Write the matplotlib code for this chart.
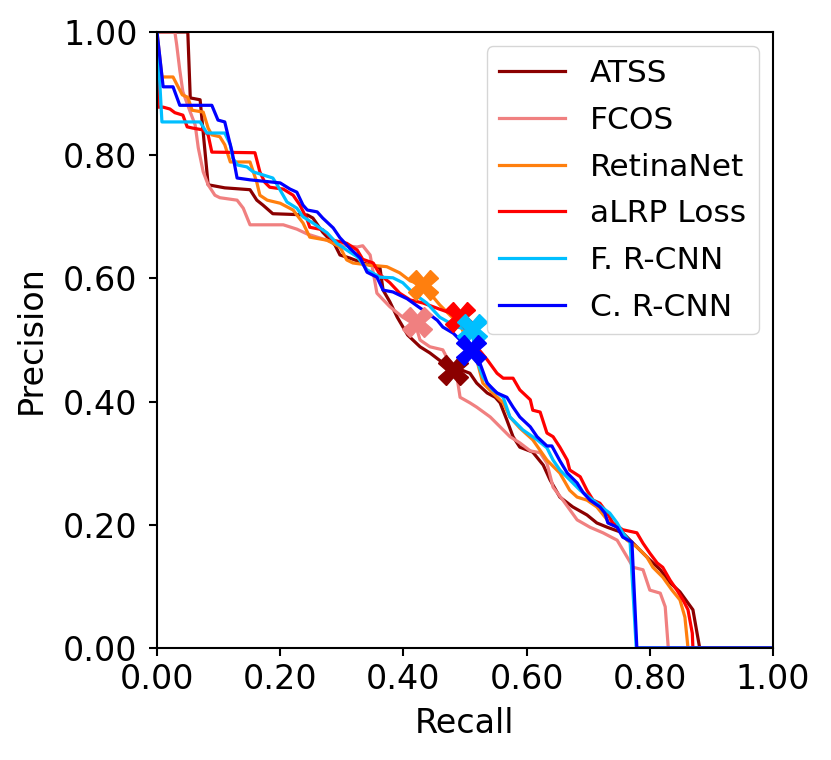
import matplotlib
matplotlib.use("Agg")
import matplotlib.pyplot as plt

names = ["ATSS", "FCOS", "RetinaNet", "aLRP Loss", "F. R-CNN", "C. R-CNN"]
colors = ["darkred", "lightcoral", "tab:orange", "red", "deepskyblue", "blue"]

atss_r = [0.0, 0.050, 0.054, 0.070, 0.083, 0.110, 0.151, 0.162, 0.172, 0.188, 0.244, 0.253, 0.269, 0.289,
          0.297, 0.313, 0.334, 0.362, 0.367, 0.378, 0.390, 0.407, 0.427, 0.443, 0.464, 0.508, 0.519, 0.536,
          0.549, 0.557, 0.568, 0.578, 0.589, 0.610, 0.627, 0.638, 0.654, 0.675, 0.698, 0.714, 0.731, 0.756,
          0.779, 0.800, 0.817, 0.833, 0.849, 0.870, 0.881, 1.0]
atss_p = [1.0, 1.0, 0.893, 0.890, 0.752, 0.747, 0.744, 0.727, 0.719, 0.705, 0.703, 0.698, 0.675, 0.654,
          0.638, 0.633, 0.625, 0.617, 0.581, 0.562, 0.537, 0.508, 0.489, 0.479, 0.463, 0.446, 0.430, 0.414,
          0.407, 0.398, 0.370, 0.343, 0.326, 0.318, 0.297, 0.273, 0.245, 0.229, 0.216, 0.203, 0.196, 0.187,
          0.164, 0.143, 0.127, 0.106, 0.091, 0.062, 0.0, 0.0]

fcos_r = [0.0, 0.029, 0.032, 0.037, 0.042, 0.054, 0.062, 0.067, 0.075, 0.083, 0.094, 0.102, 0.130, 0.140,
          0.151, 0.205, 0.227, 0.244, 0.276, 0.297, 0.325, 0.334, 0.346, 0.357, 0.378, 0.399, 0.420, 0.427,
          0.443, 0.464, 0.487, 0.492, 0.508, 0.519, 0.541, 0.557, 0.573, 0.589, 0.606, 0.622, 0.633, 0.643,
          0.659, 0.682, 0.703, 0.724, 0.747, 0.763, 0.773, 0.789, 0.800, 0.817, 0.825, 0.830, 1.0]
fcos_p = [1.0, 1.0, 0.979, 0.938, 0.903, 0.870, 0.849, 0.812, 0.773, 0.752, 0.735, 0.731, 0.727, 0.714,
          0.687, 0.687, 0.680, 0.672, 0.662, 0.654, 0.651, 0.653, 0.638, 0.576, 0.554, 0.537, 0.524, 0.500,
          0.489, 0.484, 0.440, 0.407, 0.398, 0.391, 0.375, 0.359, 0.343, 0.333, 0.320, 0.317, 0.300, 0.261,
          0.240, 0.208, 0.196, 0.187, 0.175, 0.148, 0.131, 0.127, 0.094, 0.089, 0.067, 0.0, 0.0]

retina_r = [0.0, 0.008, 0.026, 0.041, 0.050, 0.057, 0.075, 0.083, 0.089, 0.102, 0.110, 0.119, 0.151, 0.162,
            0.167, 0.179, 0.200, 0.221, 0.237, 0.248, 0.276, 0.297, 0.308, 0.318, 0.341, 0.373, 0.394, 0.411,
            0.432, 0.459, 0.492, 0.519, 0.529, 0.545, 0.562, 0.573, 0.589, 0.610, 0.633, 0.654, 0.670, 0.682,
            0.698, 0.714, 0.731, 0.747, 0.763, 0.779, 0.795, 0.805, 0.821, 0.836, 0.849, 0.857, 0.862, 1.0]
retina_p = [1.0, 0.927, 0.927, 0.898, 0.894, 0.873, 0.870, 0.844, 0.833, 0.830, 0.817, 0.789, 0.789, 0.756,
            0.735, 0.727, 0.722, 0.711, 0.690, 0.667, 0.662, 0.651, 0.630, 0.625, 0.622, 0.619, 0.609, 0.596,
            0.589, 0.557, 0.524, 0.468, 0.430, 0.414, 0.398, 0.375, 0.357, 0.338, 0.305, 0.284, 0.256, 0.245,
            0.240, 0.229, 0.208, 0.196, 0.175, 0.164, 0.148, 0.131, 0.115, 0.094, 0.078, 0.050, 0.0, 0.0]

alrp_r = [0.0, 0.002, 0.010, 0.021, 0.029, 0.042, 0.049, 0.058, 0.075, 0.083, 0.089, 0.159, 0.167, 0.175,
          0.183, 0.205, 0.221, 0.232, 0.244, 0.248, 0.269, 0.286, 0.308, 0.325, 0.334, 0.351, 0.362, 0.378,
          0.394, 0.411, 0.432, 0.459, 0.490, 0.505, 0.519, 0.536, 0.552, 0.562, 0.578, 0.589, 0.606, 0.610,
          0.622, 0.633, 0.643, 0.654, 0.666, 0.670, 0.687, 0.698, 0.708, 0.719, 0.731, 0.740, 0.756, 0.779,
          0.789, 0.800, 0.812, 0.821, 0.833, 0.844, 0.854, 0.862, 0.869, 0.870, 1.0]
alrp_p = [1.0, 0.878, 0.878, 0.875, 0.869, 0.865, 0.846, 0.844, 0.841, 0.833, 0.805, 0.804, 0.773, 0.756,
          0.748, 0.745, 0.735, 0.719, 0.695, 0.683, 0.679, 0.662, 0.657, 0.646, 0.631, 0.625, 0.606, 0.593,
          0.576, 0.565, 0.560, 0.550, 0.539, 0.524, 0.489, 0.468, 0.446, 0.438, 0.438, 0.419, 0.403, 0.386,
          0.383, 0.349, 0.343, 0.326, 0.305, 0.289, 0.278, 0.256, 0.240, 0.235, 0.219, 0.203, 0.192, 0.187,
          0.170, 0.154, 0.138, 0.131, 0.110, 0.094, 0.078, 0.062, 0.024, 0.0, 0.0]

frcnn_r = [0.0, 0.008, 0.070, 0.081, 0.110, 0.119, 0.123, 0.131, 0.146, 0.156, 0.172, 0.188, 0.195, 0.211,
           0.227, 0.237, 0.253, 0.276, 0.292, 0.308, 0.325, 0.341, 0.362, 0.383, 0.399, 0.416, 0.438, 0.459,
           0.487, 0.511, 0.519, 0.529, 0.545, 0.562, 0.573, 0.594, 0.617, 0.633, 0.643, 0.654, 0.670, 0.687,
           0.708, 0.724, 0.735, 0.747, 0.756, 0.768, 0.778, 1.0]
frcnn_p = [1.0, 0.854, 0.854, 0.836, 0.836, 0.817, 0.795, 0.784, 0.781, 0.773, 0.768, 0.763, 0.752, 0.724,
           0.714, 0.700, 0.690, 0.674, 0.657, 0.646, 0.635, 0.614, 0.602, 0.601, 0.593, 0.576, 0.560, 0.537,
           0.521, 0.516, 0.468, 0.440, 0.419, 0.407, 0.375, 0.354, 0.338, 0.325, 0.305, 0.289, 0.273, 0.256,
           0.240, 0.227, 0.219, 0.203, 0.187, 0.172, 0.0, 0.0]

crcnn_r = [0.0, 0.010, 0.026, 0.037, 0.089, 0.099, 0.110, 0.115, 0.122, 0.127, 0.130, 0.151, 0.200, 0.216,
           0.227, 0.237, 0.244, 0.260, 0.269, 0.286, 0.297, 0.313, 0.330, 0.341, 0.357, 0.367, 0.383, 0.406,
           0.427, 0.443, 0.455, 0.464, 0.481, 0.492, 0.511, 0.524, 0.536, 0.552, 0.568, 0.578, 0.589, 0.606,
           0.617, 0.633, 0.641, 0.654, 0.666, 0.682, 0.692, 0.703, 0.719, 0.727, 0.732, 0.747, 0.756, 0.771,
           0.779, 1.0]
crcnn_p = [1.0, 0.911, 0.911, 0.881, 0.881, 0.857, 0.854, 0.833, 0.805, 0.779, 0.763, 0.760, 0.755, 0.745,
           0.740, 0.719, 0.711, 0.708, 0.698, 0.682, 0.666, 0.649, 0.633, 0.610, 0.602, 0.581, 0.578, 0.567,
           0.552, 0.541, 0.532, 0.521, 0.511, 0.500, 0.485, 0.463, 0.430, 0.414, 0.407, 0.391, 0.375, 0.359,
           0.343, 0.328, 0.328, 0.304, 0.284, 0.268, 0.252, 0.240, 0.229, 0.219, 0.203, 0.196, 0.180, 0.172,
           0.0, 0.0]

marker_r = [0.480, 0.422, 0.432, 0.492, 0.511, 0.510]
marker_p = [0.451, 0.530, 0.589, 0.537, 0.518, 0.484]

curves_r = [atss_r, fcos_r, retina_r, alrp_r, frcnn_r, crcnn_r]
curves_p = [atss_p, fcos_p, retina_p, alrp_p, frcnn_p, crcnn_p]

fig = plt.figure(figsize=(8.31, 7.60), dpi=100)
ax = fig.add_axes([157 / 831, 112 / 760, 616 / 831, 616 / 760])

for r, p, c, n in zip(curves_r, curves_p, colors, names):
    ax.plot(r, p, color=c, lw=2.3, label=n)
for mr, mp, c in zip(marker_r, marker_p, colors):
    ax.plot([mr], [mp], marker="X", color=c, markersize=21, linestyle="none")

ax.set_xlim(0, 1)
ax.set_ylim(0, 1)
ticks = [0.0, 0.2, 0.4, 0.6, 0.8, 1.0]
ax.set_xticks(ticks)
ax.set_yticks(ticks)
ax.set_xticklabels(["%.2f" % t for t in ticks])
ax.set_yticklabels(["%.2f" % t for t in ticks])
ax.tick_params(labelsize=24, length=6, width=1.5)
ax.tick_params(axis="y", pad=8)
ax.tick_params(axis="x", pad=5)
for s in ax.spines.values():
    s.set_linewidth(1.5)
ax.set_xlabel("Recall", fontsize=24, labelpad=8)
ax.set_ylabel("Precision", fontsize=24, labelpad=11)
ax.legend(loc="upper right", fontsize=22.5, handlelength=2.1, borderaxespad=0.46, labelspacing=0.57)

fig.savefig("out.png", dpi=100)
